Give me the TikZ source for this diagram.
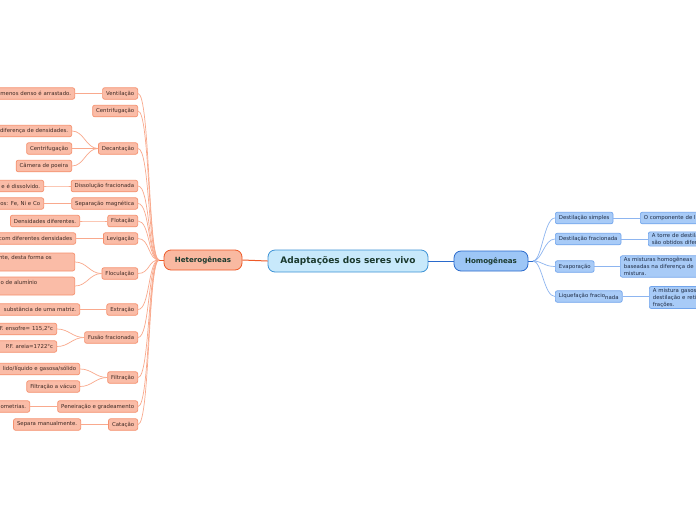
\documentclass[tikz,border=0pt]{standalone}
\usepackage{fontspec}
\setmainfont{DejaVu Sans}
\definecolor{lfill}{HTML}{FABCA7}
\definecolor{lborder}{HTML}{F5906E}
\definecolor{lcon}{HTML}{F9A98D}
\definecolor{ltext}{HTML}{3E2A24}
\definecolor{hetfill}{HTML}{F9B9A1}
\definecolor{hetborder}{HTML}{EE5A28}
\definecolor{rfill}{HTML}{A8CBF7}
\definecolor{rborder}{HTML}{72A5EC}
\definecolor{rcon}{HTML}{8DB5F0}
\definecolor{rtext}{HTML}{1F2D46}
\definecolor{homfill}{HTML}{9DC6F6}
\definecolor{homborder}{HTML}{2A6ACC}
\definecolor{cfill}{HTML}{C8E9FB}
\definecolor{cborder}{HTML}{3C92D6}
\definecolor{title}{HTML}{1B3A2E}
\tikzset{
  smallfont/.style={font=\fontsize{5.4}{7}\selectfont},
  lnode/.style={draw=lborder, fill=lfill, rounded corners=2pt, line width=0.7pt, smallfont, text=ltext, inner xsep=3.5pt, inner ysep=1.5pt, minimum height=11.5pt},
  rnode/.style={draw=rborder, fill=rfill, rounded corners=2pt, line width=0.7pt, smallfont, text=rtext, inner xsep=3.5pt, inner ysep=1.5pt, minimum height=11.5pt},
  ltxt/.style={smallfont, text=ltext, inner sep=0pt},
  lc/.style={draw=lcon, line width=0.7pt},
  rc/.style={draw=rcon, line width=0.7pt},
  centerbox/.style={draw=cborder, fill=cfill, line width=0.8pt, rounded corners=7pt, minimum width=160pt, minimum height=22pt, font=\bfseries\fontsize{9}{10}\selectfont, text=title},
  hetbox/.style={draw=hetborder, fill=hetfill, line width=0.8pt, rounded corners=7pt, minimum width=78pt, minimum height=20pt, font=\bfseries\fontsize{7.1}{8}\selectfont, text=title},
  hombox/.style={draw=homborder, fill=homfill, line width=0.8pt, rounded corners=7pt, minimum width=74pt, minimum height=20pt, font=\bfseries\fontsize{7.1}{8}\selectfont, text=title},
}
\begin{document}
\begin{tikzpicture}[x=1pt,y=-1pt]
\useasboundingbox (0,0) rectangle (696,520);
\clip (0,0) rectangle (696,520);
\fill[white] (0,0) rectangle (696,520);

% central nodes
\node[centerbox] (c) at (348,261) {Adaptações dos seres vivo};
\node[hetbox] (het) at (203,260) {Heterogêneas};
\node[hombox] (hom) at (491,261) {Homogêneas};
\coordinate (hubL) at (159,260);
\coordinate (hubR) at (533,261);
\draw[draw=hetborder, line width=1pt] (c.west) -- (het.east);
\draw[draw=homborder, line width=1pt] (c.east) -- (hom.west);
\draw[draw=hetborder, line width=0.9pt] (het.west) -- (hubL);
\draw[draw=homborder, line width=0.9pt] (hom.east) -- (hubR);

% left level-1
\node[lnode, anchor=east] (ven) at (138,93.5) {Ventilação};
\node[lnode, anchor=east] (cen) at (138,111) {Centrifugação};
\node[lnode, anchor=east] (dec) at (138,148.5) {Decantação};
\node[lnode, anchor=east] (dis) at (138,186) {Dissolução fracionada};
\node[lnode, anchor=east] (sep) at (138,203.5) {Separação magnética};
\node[lnode, anchor=east] (flo) at (138,221) {Flotação};
\node[lnode, anchor=east] (lev) at (138,238.5) {Levigação};
\node[lnode, anchor=east] (floc) at (138,273.5) {Floculação};
\node[lnode, anchor=east] (ext) at (138,309.5) {Extração};
\node[lnode, anchor=east] (fus) at (138,337.5) {Fusão fracionada};
\node[lnode, anchor=east] (fil) at (138,377.5) {Filtração};
\node[lnode, anchor=east] (pen) at (138,406.5) {Peneiração e gradeamento};
\node[lnode, anchor=east] (cat) at (138,424.5) {Catação};

\foreach \n in {ven,cen,dec,dis,sep,flo,lev,floc,ext,fus,fil,pen,cat}
  \draw[lc] (hubL) .. controls +(-11,0) and +(12,0) .. (\n.east);

% left leaves
\node[lnode, anchor=east, text width=100pt, align=right] (ven1) at (75,93.5) {menos denso é arrastado.};
\node[lnode, anchor=east, text width=100pt, align=right] (dec1) at (72,131) {diferença de densidades.};
\node[lnode, anchor=east] (dec2) at (72,148.5) {Centrifugação};
\node[lnode, anchor=east] (dec3) at (72,166) {Câmera de poeira};
\node[lnode, anchor=east, text width=70pt, align=right] (dis1) at (44,186) {e é dissolvido.};
\node[lnode, anchor=east, text width=70pt, align=right] (sep1) at (44,203.5) {os: Fe, Ni e Co};
\node[lnode, anchor=east] (flo1) at (80,221) {Densidades diferentes.};
\node[lnode, anchor=east, text width=100pt, align=right] (lev1) at (76,238.5) {com diferentes densidades};
\node[lnode, anchor=east, minimum width=100pt, minimum height=18pt] (floc1) at (75,262) {};
\node[ltxt, anchor=east] (floc1t) at (52,258) {nte, desta forma os};
\node[lnode, anchor=east, minimum width=100pt, minimum height=18pt] (floc2) at (75,286) {};
\node[ltxt, anchor=east] (floc2t) at (37.5,282.5) {o de alumínio};
\node[lnode, anchor=east, text width=110pt, align=right] (ext1) at (80,309.5) {substância de uma matriz.};
\node[lnode, anchor=east, text width=90pt, align=right] (fus1) at (57,329) {P.F. ensofre= 115,2°c};
\node[lnode, anchor=east, text width=70pt, align=right] (fus2) at (57,346.5) {P.F. areia=1722°c};
\node[lnode, anchor=east, text width=110pt, align=right] (fil1) at (80,369) {lido/líquido e gasosa/sólido};
\node[lnode, anchor=east] (fil2) at (80,386.5) {Filtração a vácuo};
\node[lnode, anchor=east, text width=50pt, align=right] (pen1) at (30,406.5) {ometrias.};
\node[lnode, anchor=east] (cat1) at (81,424.5) {Separa manualmente.};

\foreach \a/\b in {ven/ven1,dec/dec1,dec/dec2,dec/dec3,dis/dis1,sep/sep1,flo/flo1,lev/lev1,floc/floc1,floc/floc2,ext/ext1,fus/fus1,fus/fus2,fil/fil1,fil/fil2,pen/pen1,cat/cat1}
  \draw[lc] (\a.west) .. controls +(-12,0) and +(12,0) .. (\b.east);

% right level-1
\node[rnode, anchor=west] (ds) at (555,218) {Destilação simples};
\node[rnode, anchor=west] (df) at (555,239) {Destilação fracionada};
\node[rnode, anchor=west] (ev) at (555,266.5) {Evaporação};
\node[rnode, anchor=west] (lf) at (555,296.5) {Liquefação fracio\raisebox{-1.3pt}{nada}};

\foreach \n in {ds,df,ev,lf}
  \draw[rc] (hubR) .. controls +(9,0) and +(-11,0) .. (\n.west);

% right leaves
\node[rnode, anchor=west, text width=100pt, align=left] (ds1) at (640,218) {O componente de l};
\node[rnode, anchor=west, text width=100pt, align=left] (df1) at (648,239) {A torre de destilação\\são obtidos diferentes};
\node[rnode, anchor=west, text width=100pt, align=left] (ev1) at (620,266.5) {As misturas homogêneas\\baseadas na diferença de\\mistura.};
\node[rnode, anchor=west, text width=100pt, align=left] (lf1) at (649,297.5) {A mistura gasosa\\destilação e retificação\\frações.};

\draw[rc] (ds.east) -- (ds1.west);
\draw[rc] (df.east) -- (df1.west |- df.east);
\draw[rc] (ev.east) -- (ev1.west |- ev.east);
\draw[rc] (lf.east) -- (lf1.west |- lf.east);
\end{tikzpicture}
\end{document}
